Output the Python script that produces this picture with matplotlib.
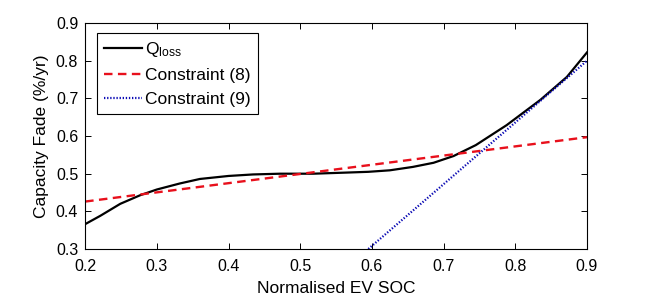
import matplotlib
matplotlib.use("Agg")
import matplotlib.pyplot as plt
import numpy as np

plt.rcParams['font.family'] = ['Liberation Sans', 'DejaVu Sans']
plt.rcParams['mathtext.fontset'] = 'custom'
plt.rcParams['mathtext.rm'] = 'Liberation Sans'

# Q_loss curve
soc = [0.200, 0.221, 0.249, 0.277, 0.300, 0.332, 0.360, 0.400, 0.434, 0.472,
       0.518, 0.565, 0.595, 0.625, 0.657, 0.686, 0.714, 0.745, 0.788, 0.835,
       0.872, 0.900]
qloss = [0.366, 0.388, 0.420, 0.443, 0.458, 0.474, 0.486, 0.494, 0.498, 0.500,
         0.500, 0.503, 0.505, 0.509, 0.518, 0.529, 0.547, 0.576, 0.629, 0.696,
         0.757, 0.822]

# constraint (8): straight line
c8_soc = [0.20, 0.90]
c8_val = [0.426, 0.597]

# constraint (9): straight line
c9_soc = [0.595, 0.90]
c9_val = [0.300, 0.800]

fig = plt.figure(figsize=(6.5, 3.0), dpi=100)
ax = fig.add_axes([0.131, 0.170, 0.772, 0.753])

ax.plot(soc, qloss, color='black', lw=1.6, label=r'$\mathregular{Q_{loss}}$')
ax.plot(c8_soc, c8_val, color='#e8101c', lw=1.7, ls=(0, (3.6, 2.3)), label='Constraint (8)')
ax.plot(c9_soc, c9_val, color='#0a0ab4', lw=1.6, ls=(0, (0.6, 0.8)), label='Constraint (9)')

ax.set_xlim(0.2, 0.9)
ax.set_ylim(0.3, 0.9)
ax.set_xticks(np.arange(0.2, 0.91, 0.1))
ax.set_yticks(np.arange(0.3, 0.91, 0.1))
ax.set_xticklabels(['0.2', '0.3', '0.4', '0.5', '0.6', '0.7', '0.8', '0.9'])
ax.set_yticklabels(['0.3', '0.4', '0.5', '0.6', '0.7', '0.8', '0.9'])
ax.tick_params(direction='in', top=True, right=True, labelsize=11.5, length=4,
               width=0.7, pad=5)
ax.tick_params(axis='x', pad=7)
for s in ax.spines.values():
    s.set_linewidth(0.8)

ax.set_xlabel('Normalised EV SOC', fontsize=12.5, labelpad=5)
ax.set_ylabel('Capacity Fade (%/yr)', fontsize=12.5, labelpad=5)

leg = ax.legend(loc='upper left', bbox_to_anchor=(0.024, 0.955), fontsize=12.5,
                handlelength=2.2, handletextpad=0.15, borderpad=0.4,
                labelspacing=0.5, fancybox=False, framealpha=1, borderaxespad=0)
leg.get_frame().set_edgecolor('black')
leg.get_frame().set_linewidth(0.8)

fig.savefig('out.png', dpi=100)
